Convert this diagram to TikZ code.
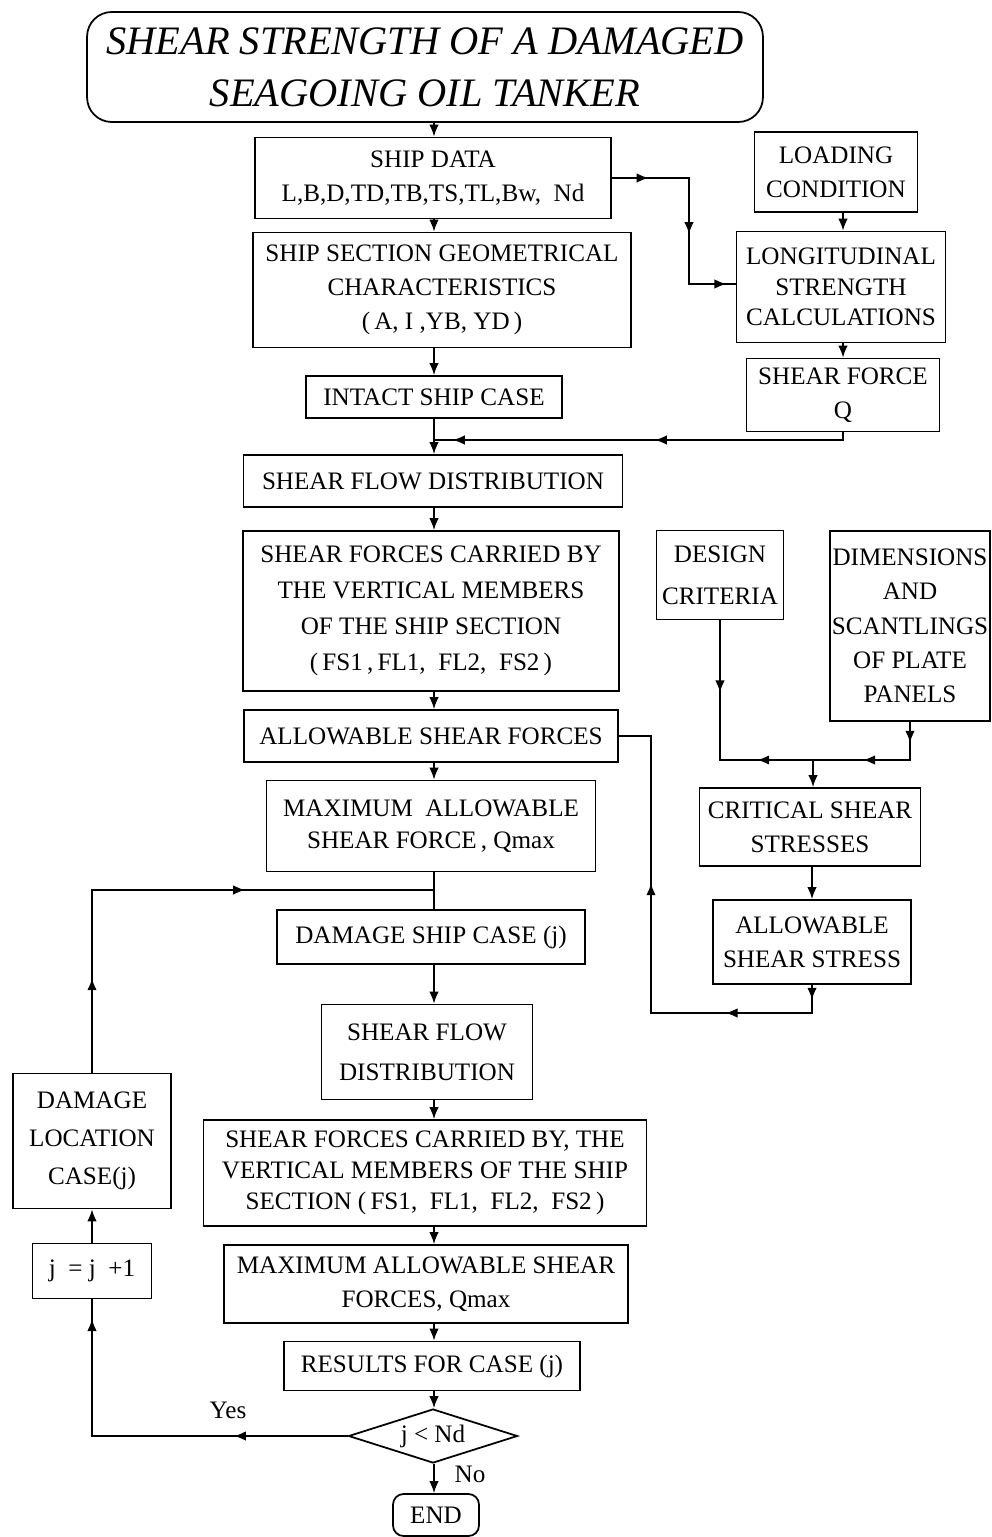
\documentclass[tikz,border=0pt]{standalone}
\usepackage{fontspec}
\setmainfont{Liberation Serif}
\usetikzlibrary{shapes.geometric,arrows.meta,decorations.markings}

\begin{document}
\begin{tikzpicture}[x=0.02cm,y=-0.02cm,
  >={Latex[length=2.4mm,width=1.9mm]},
  box/.style={draw,line width=1pt,align=center,inner sep=1pt,font=\fontsize{14.3}{19.5}\selectfont},
  link/.style={line width=1pt},
  tip/.style={postaction={decorate,decoration={markings,mark=at position #1 with {\arrow{>}}}}},
  rtip/.style={postaction={decorate,decoration={markings,mark=at position #1 with {\arrowreversed{>}}}}}]
\useasboundingbox (0,0) rectangle (991,1537);
\node[box,font=\fontsize{23}{29.5}\selectfont\itshape,rounded corners=14pt,minimum width=13.52cm,minimum height=2.2cm] (title) at (425,67) {SHEAR STRENGTH OF A DAMAGED\\SEAGOING OIL TANKER};
\node[box,minimum width=7.12cm,minimum height=1.62cm] (data) at (433,178) {SHIP DATA\\L,B,D,TD,TB,TS,TL,Bw,\ \ Nd};
\node[box,minimum width=3.26cm,minimum height=1.6cm] (load) at (836,172) {LOADING\\CONDITION};
\node[box,minimum width=7.56cm,minimum height=2.3cm] (geom) at (442,290) {SHIP SECTION GEOMETRICAL\\CHARACTERISTICS\\(\,A, I ,YB, YD\,)};
\node[box,font=\fontsize{14.3}{17.5}\selectfont,minimum width=4.18cm,minimum height=2.22cm] (long) at (841,287) {LONGITUDINAL\\STRENGTH\\CALCULATIONS};
\node[box,minimum width=3.86cm,minimum height=1.46cm] (sfq) at (843,395) {SHEAR FORCE\\Q};
\node[box,minimum width=5.12cm,minimum height=0.84cm] (intact) at (434,397) {INTACT SHIP CASE};
\node[box,minimum width=7.58cm,minimum height=1.04cm] (flow) at (433,481) {SHEAR FLOW DISTRIBUTION};
\node[box,font=\fontsize{14.3}{20.4}\selectfont,minimum width=7.52cm,minimum height=3.2cm] (carried) at (431,611) {SHEAR FORCES CARRIED BY\\THE VERTICAL MEMBERS\\OF THE SHIP SECTION\\(\,FS1\,,\,FL1,\ \ FL2,\ \ FS2\,)};
\node[box,minimum width=7.48cm,minimum height=1.04cm] (allowsf) at (431,736) {ALLOWABLE SHEAR FORCES};
\node[box,font=\fontsize{14.3}{18}\selectfont,minimum width=6.58cm,minimum height=1.82cm] (maxq) at (431,826) {MAXIMUM\ \ ALLOWABLE\\SHEAR FORCE\,, Qmax};
\node[box,font=\fontsize{14.3}{23.8}\selectfont,minimum width=2.54cm,minimum height=1.78cm] (design) at (720,575) {DESIGN\\CRITERIA};
\node[box,minimum width=3.2cm,minimum height=3.8cm] (dims) at (910,626) {DIMENSIONS\\AND\\SCANTLINGS\\OF PLATE\\PANELS};
\node[box,minimum width=4.42cm,minimum height=1.56cm] (crit) at (810,827) {CRITICAL SHEAR\\STRESSES};
\node[box,minimum width=3.96cm,minimum height=1.68cm] (stress) at (812,942) {ALLOWABLE\\SHEAR STRESS};
\node[box,minimum width=6.16cm,minimum height=1.08cm] (dmg) at (431,937) {DAMAGE SHIP CASE (j)};
\node[box,font=\fontsize{14.3}{23}\selectfont,minimum width=4.22cm,minimum height=1.9cm] (flow2) at (427,1052) {SHEAR FLOW\\DISTRIBUTION};
\node[box,font=\fontsize{14.3}{17.6}\selectfont,minimum width=8.86cm,minimum height=2.12cm] (carried2) at (425,1173) {SHEAR FORCES CARRIED BY, THE\\VERTICAL MEMBERS OF THE SHIP\\SECTION (\,FS1,\ \ FL1,\ \ FL2,\ \ FS2\,)};
\node[box,minimum width=8.08cm,minimum height=1.56cm] (max2) at (426,1284) {MAXIMUM ALLOWABLE SHEAR\\FORCES, Qmax};
\node[box,minimum width=5.92cm,minimum height=0.98cm] (results) at (432,1366) {RESULTS FOR CASE (j)};
\node[box,diamond,aspect=3.2,inner sep=0pt,minimum width=3.38cm,minimum height=1.08cm] (dia) at (433,1436) {j < Nd};
\node[box,rounded corners=6pt,minimum width=1.72cm,minimum height=0.84cm] (end) at (436,1515) {END};
\node[box,font=\fontsize{14.3}{21.5}\selectfont,minimum width=3.16cm,minimum height=2.7cm] (dmgloc) at (92,1141) {DAMAGE\\LOCATION\\CASE(j)};
\node[box,minimum width=2.38cm,minimum height=1.1cm] (jbox) at (92,1271) {j\ \ = j\ \ +1};
\node[font=\fontsize{14.3}{17}\selectfont] (yes) at (228,1410) {Yes};
\node[font=\fontsize{14.3}{17}\selectfont] (no) at (470,1474) {No};
\coordinate (jq) at (434,440);
\coordinate (jd) at (813,760);
\coordinate (jl) at (434,890);
\coordinate (ka) at (689,284);
\coordinate (kb) at (651,1013);
\draw[link,->] (title.south -| jq) -- (data.north -| jq);
\draw[link,->] (data.south -| jq) -- (geom.north -| jq);
\draw[link,tip=0.16,tip=0.58,tip=0.96] (data.east) -| (ka) -- (ka -| long.west);
\draw[link,->] (load.south -| sfq) -- (long.north -| sfq);
\draw[link,->] (long.south -| sfq) -- (sfq.north);
\draw[link,->] (geom.south -| jq) -- (intact.north -| jq);
\draw[link,tip=0.47,tip=0.955] (sfq.south) |- (jq);
\draw[link,->] (intact.south -| jq) -- (flow.north -| jq);
\draw[link,->] (flow.south -| jq) -- (carried.north -| jq);
\draw[link,->] (carried.south -| jq) -- (allowsf.north -| jq);
\draw[link,->] (allowsf.south -| jq) -- (maxq.north -| jq);
\draw[link,tip=0.31,rtip=0.76] (design.south) |- (jd);
\draw[link,tip=0.155,tip=0.63] (dims.south) |- (jd);
\draw[link,->] (jd) -- (jd |- crit.north);
\draw[link,->] (crit.south -| stress) -- (stress.north);
\draw[link,tip=0.03,tip=0.23,tip=0.64] (stress.south) |- (kb) |- (allowsf.east);
\draw[link] (maxq.south -| jq) -- (dmg.north -| jq);
\draw[link,->] (dmg.south -| jq) -- (flow2.north -| jq);
\draw[link,->] (flow2.south -| jq) -- (carried2.north -| jq);
\draw[link,->] (carried2.south -| jq) -- (max2.north -| jq);
\draw[link,->] (max2.south -| jq) -- (results.north -| jq);
\draw[link,->] (results.south -| jq) -- (dia.north -| jq);
\draw[link,->] (dia.south -| jq) -- (end.north -| jq);
\draw[link,tip=0.29,tip=0.95] (dia.west) -| (jbox.south);
\draw[link,->] (jbox.north) -- (dmgloc.south);
\draw[link,tip=0.18,tip=0.64] (dmgloc.north) |- (jl);
\end{tikzpicture}
\end{document}
